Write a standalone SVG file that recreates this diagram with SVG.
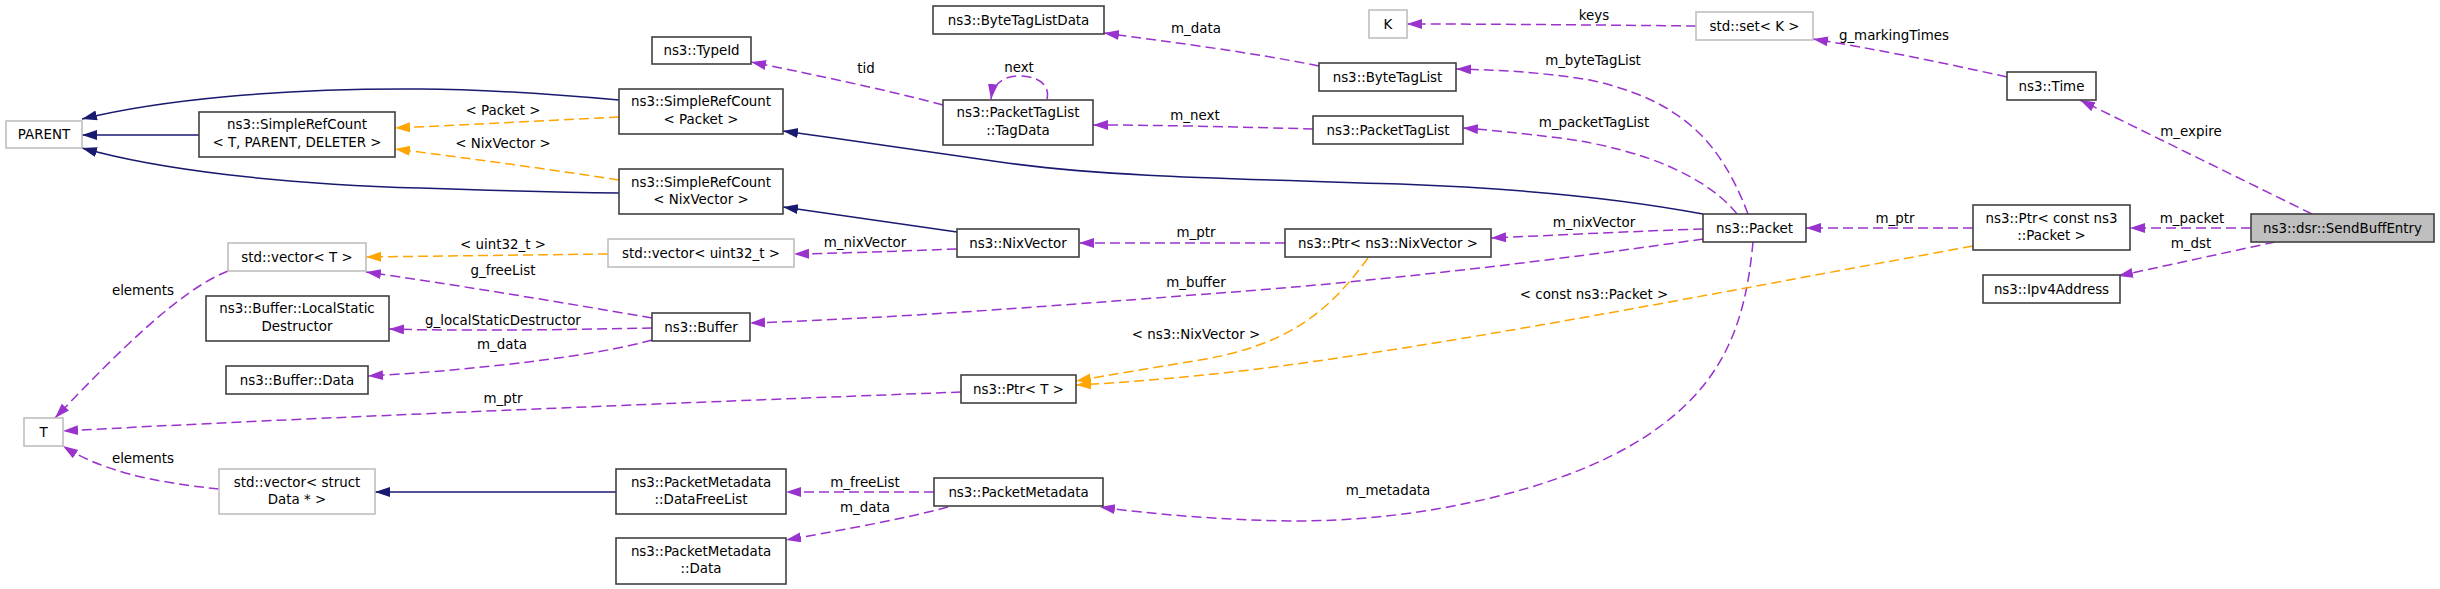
<svg xmlns="http://www.w3.org/2000/svg" width="2440" height="589" viewBox="0 0 2440 589">
<style>
text{font-family:"DejaVu Sans","Liberation Sans",sans-serif;font-size:13.4px;fill:#000;text-anchor:middle}
.n{fill:#fff;stroke:#404040;stroke-width:1.6}
.u{fill:#fff;stroke:#bfbfbf;stroke-width:1.6}
.r{fill:#bfbfbf;stroke:#404040;stroke-width:1.6}
.inh{fill:none;stroke:#191970;stroke-width:1.5;marker-end:url(#an)}
.use{fill:none;stroke:#9a32cd;stroke-width:1.5;stroke-dasharray:10,5;marker-end:url(#ap)}
.tpl{fill:none;stroke:#ffa500;stroke-width:1.5;stroke-dasharray:10,5;marker-end:url(#ao)}
</style>
<defs>
<marker id="an" markerUnits="userSpaceOnUse" markerWidth="16" markerHeight="12" refX="15" refY="5" orient="auto"><path d="M0,0 L15,5 L0,10 z" fill="#191970"/></marker>
<marker id="ap" markerUnits="userSpaceOnUse" markerWidth="16" markerHeight="12" refX="15" refY="5" orient="auto"><path d="M0,0 L15,5 L0,10 z" fill="#9a32cd"/></marker>
<marker id="ao" markerUnits="userSpaceOnUse" markerWidth="16" markerHeight="12" refX="15" refY="5" orient="auto"><path d="M0,0 L15,5 L0,10 z" fill="#ffa500"/></marker>
</defs>
<rect width="2440" height="589" fill="#fff"/>
<g id="connectors">
<path class="inh" d="M619,100 C540,93 480,89 420,89 C280,88 160,100 82,119"/>
<path class="inh" d="M199,135 L82,135"/>
<path class="inh" d="M619,193 C540,192 480,190 420,188 C280,184 160,170 82,148"/>
<path class="inh" d="M1703,214 C1650,204 1560,190 1400,184 C1200,178 1100,176 1000,162 C900,148 850,140 783,131"/>
<path class="inh" d="M957,232 L783,207"/>
<path class="inh" d="M616,492 L375,492"/>
<path class="tpl" d="M619,117 C540,121 460,125 395,128"/><text x="503" y="115">&lt; Packet &gt;</text>
<path class="tpl" d="M619,180 C540,168 460,157 395,149"/><text x="503" y="148">&lt; NixVector &gt;</text>
<path class="tpl" d="M608,254 L366,257"/><text x="503" y="249">&lt; uint32_t &gt;</text>
<path class="use" d="M652,318 C560,302 450,284 366,272"/><text x="503" y="275">g_freeList</text>
<path class="use" d="M652,328 C560,330 450,331 389,329"/><text x="503" y="325">g_localStaticDestructor</text>
<path class="use" d="M652,340 C600,355 480,370 368,376"/><text x="502" y="349">m_data</text>
<path class="use" d="M961,392 C700,402 300,418 63,431"/><text x="503" y="403">m_ptr</text>
<path class="use" d="M228,271 C180,290 120,350 55,418"/><text x="143" y="295">elements</text>
<path class="use" d="M219,489 C150,482 100,470 63,446"/><text x="143" y="463">elements</text>
<path class="use" d="M943,105 C880,88 800,72 751,62"/><text x="866" y="73">tid</text>
<path class="use" d="M1047,99 C1050,86 1040,76 1019,76 C1003,76 993,84 991,99"/><text x="1019" y="72">next</text>
<path class="use" d="M957,249 C900,251 850,253 794,254"/><text x="865" y="247">m_nixVector</text>
<path class="use" d="M934,492 L786,492"/><text x="865" y="487">m_freeList</text>
<path class="use" d="M948,507 C900,520 830,532 786,540"/><text x="865" y="512">m_data</text>
<path class="use" d="M1319,66 C1250,52 1170,42 1104,33"/><text x="1196" y="33">m_data</text>
<path class="use" d="M1313,129 C1240,127 1160,125 1093,125"/><text x="1195" y="120">m_next</text>
<path class="use" d="M1285,243 L1079,243"/><text x="1196" y="237">m_ptr</text>
<path class="use" d="M1703,239 C1600,254 1400,280 1220,293 C1050,306 900,318 750,323"/><text x="1196" y="287">m_buffer</text>
<path class="tpl" d="M1368,258 C1330,310 1290,345 1200,360 C1150,368 1110,375 1076,381"/><text x="1196" y="339">&lt; ns3::NixVector &gt;</text>
<path class="use" d="M1753,242 C1745,330 1720,390 1640,440 C1560,490 1420,522 1290,521 C1220,520 1150,514 1100,507"/><text x="1388" y="495">m_metadata</text>
<path class="use" d="M1696,26 C1600,25 1500,24 1407,24"/><text x="1594" y="20">keys</text>
<path class="use" d="M1748,214 C1720,140 1680,100 1590,80 C1540,72 1500,70 1456,69"/><text x="1593" y="65">m_byteTagList</text>
<path class="use" d="M1737,214 C1710,180 1650,150 1560,138 C1520,133 1490,130 1463,128"/><text x="1594" y="127">m_packetTagList</text>
<path class="use" d="M1703,229 C1640,231 1560,235 1491,238"/><text x="1594" y="227">m_nixVector</text>
<path class="tpl" d="M1973,246 C1700,296 1450,345 1250,370 C1180,378 1120,383 1076,385"/><text x="1594" y="299">&lt; const ns3::Packet &gt;</text>
<path class="use" d="M1973,228 L1806,228"/><text x="1895" y="223">m_ptr</text>
<path class="use" d="M2007,77 C1940,62 1870,48 1813,39"/><text x="1894" y="40">g_markingTimes</text>
<path class="use" d="M2312,214 L2080,100"/><text x="2191" y="136">m_expire</text>
<path class="use" d="M2251,228 L2130,228"/><text x="2192" y="223">m_packet</text>
<path class="use" d="M2275,242 L2118,276"/><text x="2191" y="248">m_dst</text>
</g>
<g id="PARENT"><rect class="u" x="6" y="121" width="76" height="27"/><text x="44" y="139">PARENT</text></g>
<g id="SimpleRefCountTPD"><rect class="n" x="199" y="112" width="196" height="45"/><text x="297" y="129">ns3::SimpleRefCount</text><text x="297" y="147">&lt; T, PARENT, DELETER &gt;</text></g>
<g id="SimpleRefCountPacket"><rect class="n" x="619" y="89" width="164" height="45"/><text x="701" y="106">ns3::SimpleRefCount</text><text x="701" y="124">&lt; Packet &gt;</text></g>
<g id="SimpleRefCountNixVector"><rect class="n" x="619" y="169" width="164" height="45"/><text x="701" y="187">ns3::SimpleRefCount</text><text x="701" y="204">&lt; NixVector &gt;</text></g>
<g id="TypeId"><rect class="n" x="652" y="37" width="99" height="27"/><text x="701.5" y="55">ns3::TypeId</text></g>
<g id="vectorT"><rect class="u" x="228" y="243" width="138" height="28"/><text x="297" y="262">std::vector&lt; T &gt;</text></g>
<g id="vectorUint32"><rect class="u" x="608" y="239" width="186" height="28"/><text x="701" y="258">std::vector&lt; uint32_t &gt;</text></g>
<g id="LocalStaticDestructor"><rect class="n" x="206" y="296" width="183" height="45"/><text x="297" y="313">ns3::Buffer::LocalStatic</text><text x="297" y="331">Destructor</text></g>
<g id="BufferData"><rect class="n" x="226" y="366" width="142" height="28"/><text x="297" y="385">ns3::Buffer::Data</text></g>
<g id="Buffer"><rect class="n" x="652" y="313" width="98" height="28"/><text x="701" y="332">ns3::Buffer</text></g>
<g id="T"><rect class="u" x="24" y="418" width="39" height="28"/><text x="43.5" y="437">T</text></g>
<g id="vectorStructData"><rect class="u" x="219" y="469" width="156" height="45"/><text x="297" y="487">std::vector&lt; struct</text><text x="297" y="504">Data * &gt;</text></g>
<g id="DataFreeList"><rect class="n" x="616" y="469" width="170" height="45"/><text x="701" y="487">ns3::PacketMetadata</text><text x="701" y="504">::DataFreeList</text></g>
<g id="PacketMetadataData"><rect class="n" x="616" y="538" width="170" height="46"/><text x="701" y="556">ns3::PacketMetadata</text><text x="701" y="573">::Data</text></g>
<g id="ByteTagListData"><rect class="n" x="933" y="6" width="171" height="28"/><text x="1018.5" y="25">ns3::ByteTagListData</text></g>
<g id="TagData"><rect class="n" x="943" y="100" width="150" height="45"/><text x="1018" y="117">ns3::PacketTagList</text><text x="1018" y="135">::TagData</text></g>
<g id="NixVector"><rect class="n" x="957" y="229" width="122" height="28"/><text x="1018" y="248">ns3::NixVector</text></g>
<g id="PtrT"><rect class="n" x="961" y="375" width="115" height="28"/><text x="1018.5" y="394">ns3::Ptr&lt; T &gt;</text></g>
<g id="PacketMetadata"><rect class="n" x="934" y="478" width="169" height="28"/><text x="1018.5" y="497">ns3::PacketMetadata</text></g>
<g id="K"><rect class="u" x="1369" y="10" width="38" height="28"/><text x="1388" y="29">K</text></g>
<g id="ByteTagList"><rect class="n" x="1319" y="63" width="137" height="28"/><text x="1387.5" y="82">ns3::ByteTagList</text></g>
<g id="PacketTagList"><rect class="n" x="1313" y="116" width="150" height="28"/><text x="1388" y="135">ns3::PacketTagList</text></g>
<g id="PtrNixVector"><rect class="n" x="1285" y="229" width="206" height="28"/><text x="1388" y="248">ns3::Ptr&lt; ns3::NixVector &gt;</text></g>
<g id="setK"><rect class="u" x="1696" y="12" width="117" height="28"/><text x="1754.5" y="31">std::set&lt; K &gt;</text></g>
<g id="Packet"><rect class="n" x="1703" y="214" width="103" height="28"/><text x="1754.5" y="233">ns3::Packet</text></g>
<g id="Time"><rect class="n" x="2007" y="72" width="89" height="28"/><text x="2051.5" y="91">ns3::Time</text></g>
<g id="PtrConstPacket"><rect class="n" x="1973" y="205" width="157" height="45"/><text x="2051.5" y="223">ns3::Ptr&lt; const ns3</text><text x="2051.5" y="240">::Packet &gt;</text></g>
<g id="Ipv4Address"><rect class="n" x="1983" y="275" width="137" height="28"/><text x="2051.5" y="294">ns3::Ipv4Address</text></g>
<g id="SendBuffEntry"><rect class="r" x="2251" y="214" width="183" height="28"/><text x="2342.5" y="233">ns3::dsr::SendBuffEntry</text></g>
</svg>
